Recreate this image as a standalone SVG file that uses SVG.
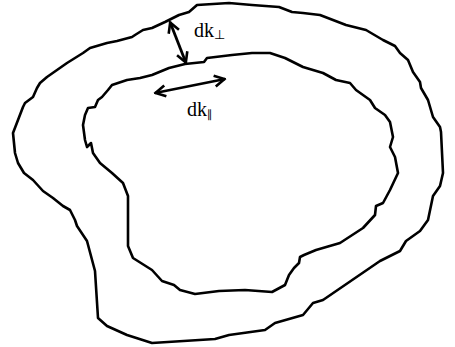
<svg xmlns="http://www.w3.org/2000/svg" width="455" height="347" viewBox="0 0 455 347">
<style>
.c{fill:none;stroke:#000;stroke-width:2.6;stroke-linejoin:round;stroke-linecap:round}
.a{fill:none;stroke:#000;stroke-width:2.8}
.t{font-family:"Liberation Serif","Times New Roman",serif;font-size:20px;fill:#000}
.s{font-size:13px}
.p{font-family:"DejaVu Sans",sans-serif;font-size:11px}
</style>
<defs>
<marker id="h" viewBox="0 0 14 14" refX="12.5" refY="7" markerWidth="14" markerHeight="14" markerUnits="userSpaceOnUse" orient="auto-start-reverse">
<polyline points="2,1.5 12,7 2,12.5" fill="none" stroke="#000" stroke-width="2.6"/>
</marker>
</defs>
<g id="outer">
<path class="c" d="M197,5 L229,3 L252,5 L279,7 L292,12 L303,13 L320,15 L346,25 L366,30 L383,40 L395,46 L400,53 L408,60 L413,72 L420,82 L421,88 L428,100 L433,117 L440,127 L441,132 L443,173 L440,186 L433,196 L428,220 L420,231 L406,241 L400,251 L380,261 L323,300 L313,303 L303,315 L275,323 L265,330 L229,335 L215,339 L152,343 L127,335 L107,326 L98,318 L95,271 L87,241 L77,226 L75,220 L70,210 L63,206 L53,198 L43,191 L33,180 L24,173 L18,163 L15,153 L13,133 L18,120 L23,107 L25,103 L33,97 L37,88 L40,83 L47,77 L67,63 L83,53 L90,48 L107,43 L117,41 L132,37 L135,35 L143,30 L152,28 L165,22 L179,15 L189,12 Z"/>
</g>
<g id="inner">
<path class="c" d="M204,62 L207,58 L232,55 L252,53 L270,53 L285,58 L299,65 L303,67 L323,73 L336,80 L350,83 L356,90 L370,100 L375,108 L385,115 L390,122 L393,137 L390,147 L395,157 L398,173 L390,190 L383,203 L376,206 L375,215 L363,228 L340,243 L316,250 L304,255 L300,257 L299,263 L294,268 L289,275 L285,285 L272,292 L245,290 L219,291 L195,294 L180,290 L174,285 L162,281 L152,270 L133,258 L128,246 L128,196 L123,183 L112,173 L100,163 L93,153 L91,143 L87,147 L85,140 L83,125 L85,115 L88,108 L95,107 L98,100 L102,97 L108,90 L112,85 L127,80 L140,78 L152,75 L169,68 L185,64 Z"/>
</g>
<g id="connectors">
<line class="a" x1="170" y1="22" x2="186" y2="63" marker-start="url(#h)" marker-end="url(#h)"/>
<line class="a" x1="155" y1="93" x2="225" y2="79" marker-start="url(#h)" marker-end="url(#h)"/>
</g>
<g id="label-perp">
<text class="t" x="194" y="37">dk<tspan class="s" dy="2">⊥</tspan></text>
</g>
<g id="label-par">
<text class="t" x="187" y="116">dk<tspan class="p" dy="2">∥</tspan></text>
</g>
</svg>
